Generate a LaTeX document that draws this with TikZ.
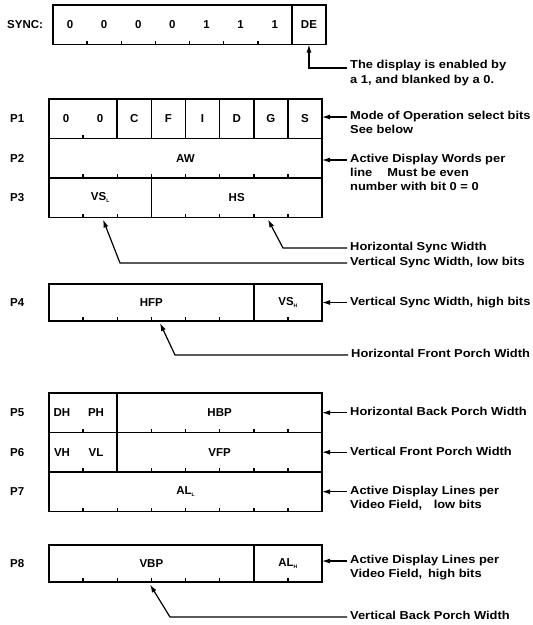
\documentclass[tikz,border=0pt]{standalone}
\usepackage{fontspec}
\setmainfont{Liberation Sans}
\newfontfamily\notefont{Liberation Sans}[FakeStretch=1.12]
\usetikzlibrary{positioning,arrows.meta}

\newcommand{\fsub}[1]{\raisebox{-0.35ex}{\fontsize{5}{5}\selectfont #1}}

\begin{document}
\begin{tikzpicture}[
  x=1pt, y=-1pt,
  font=\fontsize{11.5}{14}\selectfont\bfseries,
  field/.style={draw, line width=1.7pt, minimum width=#1*34.125pt, minimum height=39.5pt,
    inner sep=0pt, outer sep=0pt, anchor=north west},
  tag/.style={inner sep=0pt},
  note/.style={anchor=west, inner xsep=3pt, inner ysep=0pt, text height=8.3pt, text depth=2.4pt,
    font=\fontsize{11.5}{14}\notefont\bfseries},
  tick/.style={line width=1.5pt},
  arrow/.style={-{Latex[length=8pt,width=5pt]}, line width=1.2pt}
]
\useasboundingbox (0,0) rectangle (533,625);

% SYNC word
\node[tag, anchor=west] (sync) at (7,24.5) {SYNC:};
\node[field=7] (sbits) at (53,5) {};
\node[field=1] (de) at (sbits.north east) {DE};
\foreach \v [count=\i from 0] in {0,0,0,0,1,1,1}
  \node[tag] (s\i) at ({53+(\i+0.5)*34.125},24.5) {\v};
\foreach \i in {1,...,6}
  \draw[tick] ([xshift=\i*34.125pt]sbits.south west) -- ++(0,-4);
\node[note, anchor=base west] (den) at (347,68) {The display is enabled by};
\node[note, anchor=base west] (den2) at (347,83) {a 1, and blanked by a 0.};
\draw[arrow] (den.base west) -| (de.south);

% P1
\node[tag, anchor=west] (p1) at (10,118.7) {P1};
\node[field=2] (p1a) at (49,99) {};
\node[field=1] (p1c) at (p1a.north east) {C};
\node[field=1] (p1f) at (p1c.north east) {F};
\node[field=1] (p1i) at (p1f.north east) {I};
\node[field=1] (p1d) at (p1i.north east) {D};
\node[field=1] (p1g) at (p1d.north east) {G};
\node[field=1] (p1s) at (p1g.north east) {S};
\node[tag] (z0) at ({49+0.5*34.125},118.7) {0};
\node[tag] (z1) at ({49+1.5*34.125},118.7) {0};
\draw[tick] ([xshift=34.125pt]p1a.south west) -- ++(0,-4);
\node[note] (mode) at (347,117) {Mode of Operation select bits};
\node[note] (mode2) at (347,131) {See below};
\draw[arrow] (mode.west) -- (mode.west -| p1s.east);

% P2
\node[tag, anchor=west] (p2) at (10,158.2) {P2};
\node[field=8] (p2aw) at (p1a.south west) {AW};
\foreach \i in {1,...,7}
  \draw[tick] ([xshift=\i*34.125pt]p2aw.south west) -- ++(0,-4);
\node[note] (aw) at (347,160) {Active Display Words per};
\node[note] (aw2) at (347,174) {line\hspace{1.3em}Must be even};
\node[note] (aw3) at (347,188) {number with bit 0 = 0};
\draw[arrow] (aw.west) -- (aw.west -| p2aw.east);

% P3
\node[tag, anchor=west] (p3) at (10,197.7) {P3};
\node[field=3] (p3vs) at (p2aw.south west) {VS\fsub{L}};
\node[field=5] (p3hs) at (p3vs.north east) {HS};
\foreach \i in {1,2,4,5,6,7}
  \draw[tick] ([xshift=\i*34.125pt]p3vs.south west) -- ++(0,-4);
\node[note] (hsw) at (347,248) {Horizontal Sync Width};
\node[note] (vsl) at (347,263) {Vertical Sync Width, low bits};
\coordinate (hsk) at (283,248);
\coordinate (hstip) at (268,219.5);
\coordinate (vsk) at (120,263);
\coordinate (vstip) at (103,219.5);
\draw[arrow] (hsw.west) -- (hsk) -- (hstip);
\draw[arrow] (vsl.west) -- (vsk) -- (vstip);

% P4
\node[tag, anchor=west] (p4) at (10,302.5) {P4};
\node[field=6, minimum height=37pt] (p4hfp) at (49,284) {HFP};
\node[field=2, minimum height=37pt] (p4vs) at (p4hfp.north east) {VS\fsub{H}};
\foreach \i in {1,...,5,7}
  \draw[tick] ([xshift=\i*34.125pt]p4hfp.south west) -- ++(0,-4);
\node[note] (vsh) at (347,302.5) {Vertical Sync Width, high bits};
\draw[arrow] (vsh.west) -- (vsh.west -| p4vs.east);
\node[note] (hfpw) at (348,355) {Horizontal Front Porch Width};
\coordinate (hfk) at (175,355);
\coordinate (hftip) at (160,323);
\draw[arrow] (hfpw.west) -- (hfk) -- (hftip);

% P5
\node[tag, anchor=west] (p5) at (10,412.7) {P5};
\node[field=2] (p5a) at (49,393) {};
\node[field=6] (p5hbp) at (p5a.north east) {HBP};
\node[tag] (dh) at (62,412.7) {DH};
\node[tag] (ph) at (96,412.7) {PH};
\foreach \i in {1,3,4,5,6,7}
  \draw[tick] ([xshift=\i*34.125pt]p5a.south west) -- ++(0,-4);
\node[note] (hbpw) at (347,412.7) {Horizontal Back Porch Width};
\draw[arrow] (hbpw.west) -- (hbpw.west -| p5hbp.east);

% P6
\node[tag, anchor=west] (p6) at (10,452.2) {P6};
\node[field=2] (p6a) at (p5a.south west) {};
\node[field=6] (p6vfp) at (p6a.north east) {VFP};
\node[tag] (vh) at (62,452.2) {VH};
\node[tag] (vl) at (96,452.2) {VL};
\foreach \i in {1,3,4,5,6,7}
  \draw[tick] ([xshift=\i*34.125pt]p6a.south west) -- ++(0,-4);
\node[note] (vfpw) at (347,452.2) {Vertical Front Porch Width};
\draw[arrow] (vfpw.west) -- (vfpw.west -| p6vfp.east);

% P7
\node[tag, anchor=west] (p7) at (10,491.7) {P7};
\node[field=8] (p7al) at (p6a.south west) {AL\fsub{L}};
\foreach \i in {1,...,7}
  \draw[tick] ([xshift=\i*34.125pt]p7al.south west) -- ++(0,-4);
\node[note] (all) at (347,491.7) {Active Display Lines per};
\node[note] (all2) at (347,505.7) {Video Field,\hspace{1em}low bits};
\draw[arrow] (all.west) -- (all.west -| p7al.east);

% P8
\node[tag, anchor=west] (p8) at (10,563.5) {P8};
\node[field=6, minimum height=37pt] (p8vbp) at (49,545) {VBP};
\node[field=2, minimum height=37pt] (p8al) at (p8vbp.north east) {AL\fsub{H}};
\foreach \i in {1,...,5,7}
  \draw[tick] ([xshift=\i*34.125pt]p8vbp.south west) -- ++(0,-4);
\node[note] (alh) at (347,561) {Active Display Lines per};
\node[note] (alh2) at (347,575) {Video Field,\hspace{0.5em}high bits};
\draw[arrow] (alh.west) -- (alh.west -| p8al.east);
\node[note] (vbpw) at (347,617) {Vertical Back Porch Width};
\coordinate (vbk) at (170,617);
\coordinate (vbtip) at (150,584.5);
\draw[arrow] (vbpw.west) -- (vbk) -- (vbtip);
\end{tikzpicture}
\end{document}
